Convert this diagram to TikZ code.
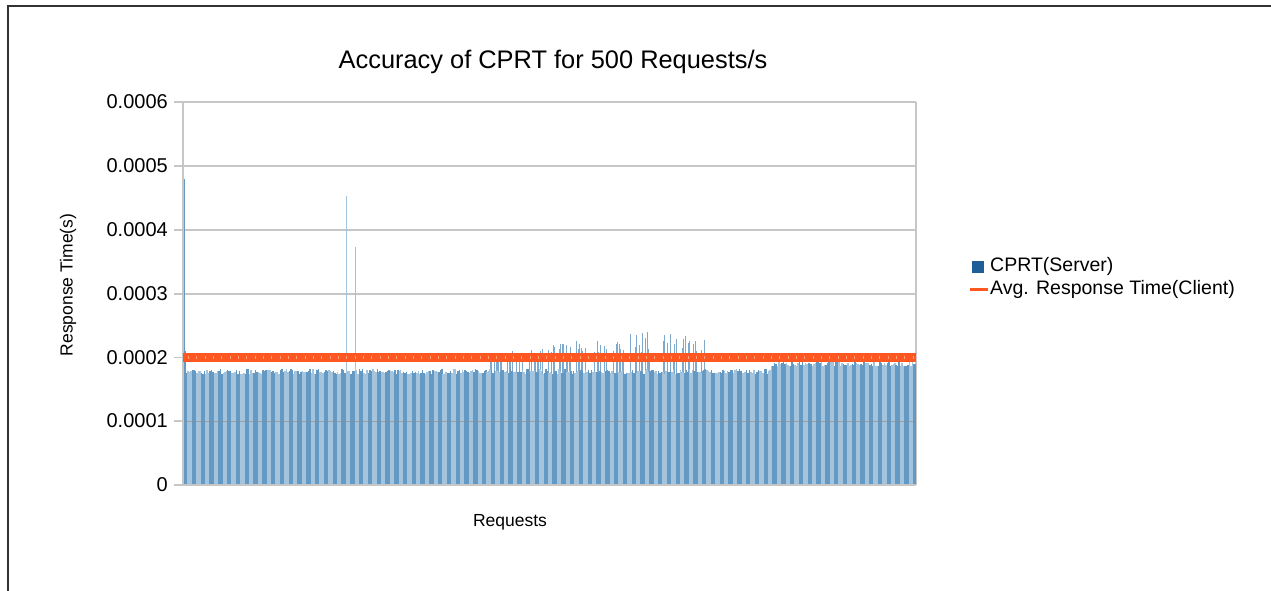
\documentclass[tikz,border=0pt]{standalone}
\usepackage{fontspec}
\setmainfont{Liberation Sans}
\definecolor{bardark}{HTML}{6399C2}
\definecolor{barlight}{HTML}{A4C3DC}
\definecolor{barspike}{HTML}{7FA9CC}
\definecolor{legblue}{HTML}{1F5F98}
\definecolor{avgline}{HTML}{FF5722}
\definecolor{avgmark}{HTML}{FFA27E}
\definecolor{gridgray}{HTML}{C6C6C6}
\tikzset{
  gridline/.style={draw=gridgray, line width=1.1},
  ticklabel/.style={anchor=east, inner sep=0pt, font=\fontsize{20}{24}\selectfont},
  axislabel/.style={inner sep=0pt, font=\fontsize{17.5}{21}\selectfont},
  legendtext/.style={anchor=west, inner sep=0pt, font=\fontsize{19.5}{23}\selectfont},
  titletext/.style={inner sep=0pt, font=\fontsize{25.4}{30}\selectfont},
}
\begin{document}
\begin{tikzpicture}[x=1pt, y=-1pt]
\useasboundingbox (0,0) rectangle (1271,591);
\fill[white] (0,0) rectangle (1271,591);

% outer frame (top and left edges)
\draw[line width=1.4, black!80] (1271,6) -- (8,6) -- (8,591);

% title
\node[titletext] (title) at (553,62) {Accuracy of CPRT for 500 Requests/s};

% plot frame and horizontal grid
\foreach \v/\yy in {0.0006/102,0.0005/166,0.0004/230,0.0003/294,0.0002/357.5,0.0001/421}{
  \draw[gridline] (174,\yy) -- (916,\yy);
  \node[ticklabel] (t\yy) at (168,\yy) {\v};
}
\node[ticklabel] (t0) at (168,485) {0};
\draw[gridline] (916,102) -- (916,485);

% bars: one per request
\pgfmathsetseed{11}
\foreach \i in {0,...,499}{
  \pgfmathsetmacro\xa{183+\i*1.466}
  \pgfmathsetmacro\base{(\xa<770 ? 113.5 : 121)+rnd*5-2.5}
  \pgfmathsetmacro\peak{131+22*min(1,max(0,(\xa-485)/150))-2*max(0,(\xa-660)/40)}
  \pgfmathsetmacro\isspike{(\xa>488 && \xa<705 && rnd<0.5) ? 1 : 0}
  \pgfmathsetmacro\sh{122+(\peak-122)*(0.3+0.7*rnd)}
  \pgfmathtruncatemacro\stripe{mod(floor(\i/3),2)}
  \def\h{\base}
  \ifnum\i=0 \def\h{306}\fi
  \ifnum\i=1 \def\h{134}\fi
  \ifnum\i=111 \def\h{289}\fi
  \ifnum\i=117 \def\h{238}\fi
  \ifnum\i=497 \def\h{131}\fi
  \ifnum\stripe=0
    \fill[bardark] (\xa,485) rectangle ++(1.5,-\h);
  \else
    \fill[barlight] (\xa,485) rectangle ++(1.5,-\h);
  \fi
  \ifdim\isspike pt>0.5pt
    \fill[barspike] (\xa+0.3,485-\base) rectangle ++(1,-\sh+\base);
  \fi
}

% grid line showing through the bars
\draw[black!45, opacity=0.6, line width=0.8] (183,421) -- (916,421);

% axes
\draw[gridline] (183,102) -- (183,485);
\draw[gridline] (174,485) -- (916,485);

% average response time of the client
\coordinate (avgL) at (183,357.5);
\coordinate (avgR) at (916,357.5);
\draw[avgline, line width=9.5] (avgL) -- (avgR);
\draw[avgmark, line width=3, dash pattern=on 1 off 7.33, dash phase=-5] (avgL) -- (avgR);

% axis titles
\node[axislabel, rotate=90] (ylab) at (68,285) {Response Time(s)};
\node[axislabel] (xlab) at (510,522) {Requests};

% legend
\fill[legblue] (972,260.5) rectangle (984,272.5) coordinate (sq);
\node[legendtext] (leg1) at (990,266.5) {CPRT(Server)};
\coordinate (lgA) at (970,289);
\coordinate (lgB) at (988,289);
\draw[avgline, line width=3] (lgA) -- (lgB);
\node[legendtext] (leg2) at (990,289.5) {Avg. Response Time(Client)};
\end{tikzpicture}
\end{document}
